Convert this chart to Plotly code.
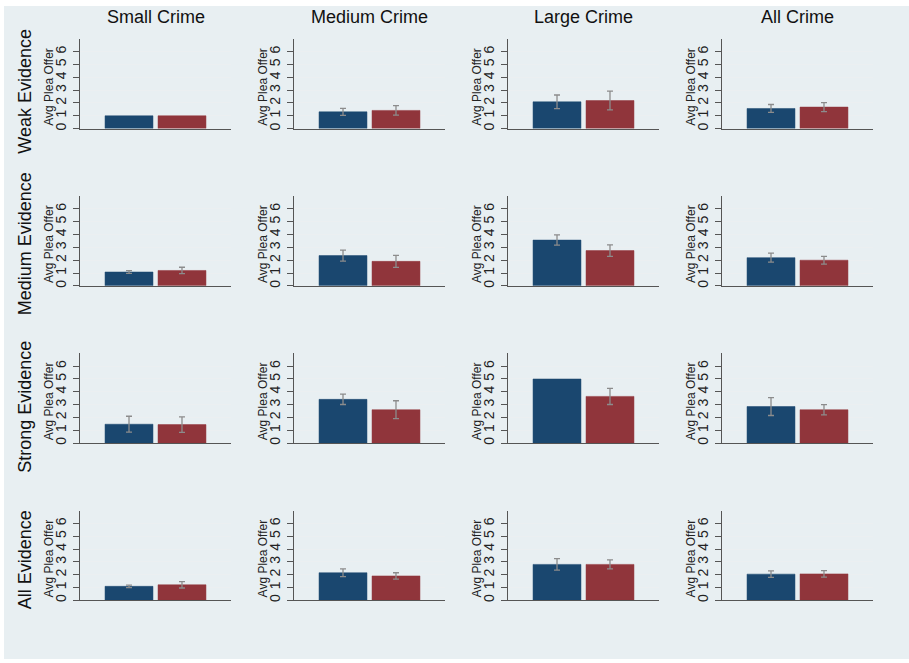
import plotly.graph_objects as go

# Panel labels
evidence_levels = ["Weak Evidence", "Medium Evidence", "Strong Evidence", "All Evidence"]
crime_sizes = ["Small Crime", "Medium Crime", "Large Crime", "All Crime"]
groups = [1, 2]
y_ticks = [0, 1, 2, 3, 4, 5, 6]
y_title = "Avg Plea Offer"

# Mean plea offers and error half-widths, one list per evidence level (columns = crime size)
blue_weak = [1.00, 1.31, 2.09, 1.57]
blue_medium = [1.08, 2.36, 3.57, 2.20]
blue_strong = [1.47, 3.41, 5.00, 2.85]
blue_all = [1.09, 2.15, 2.80, 2.04]

blue_err_weak = [None, 0.27, 0.53, 0.31]
blue_err_medium = [0.10, 0.43, 0.40, 0.35]
blue_err_strong = [0.62, 0.40, None, 0.70]
blue_err_all = [0.10, 0.30, 0.45, 0.26]

red_weak = [1.00, 1.42, 2.19, 1.68]
red_medium = [1.20, 1.91, 2.75, 2.00]
red_strong = [1.44, 2.60, 3.64, 2.60]
red_all = [1.21, 1.90, 2.80, 2.06]

red_err_weak = [None, 0.37, 0.73, 0.35]
red_err_medium = [0.25, 0.47, 0.45, 0.30]
red_err_strong = [0.60, 0.70, 0.63, 0.40]
red_err_all = [0.25, 0.25, 0.35, 0.25]

blue_means = [blue_weak, blue_medium, blue_strong, blue_all]
blue_errs = [blue_err_weak, blue_err_medium, blue_err_strong, blue_err_all]
red_means = [red_weak, red_medium, red_strong, red_all]
red_errs = [red_err_weak, red_err_medium, red_err_strong, red_err_all]

W, H = 909, 663
BG = "#e8eff2"
NAVY = "#1a476f"
MAROON = "#90353b"
ERR = "#8c8c8c"
FONT = "Liberation Sans, Arial, sans-serif"

# Panel geometry in pixels
PANEL_W, PANEL_H = 151, 90
COL_X0, COL_STEP = 80, 214
ROW_Y0, ROW_STEP = 39, 157.7


def fx(px):
    return px / W


def fy(py):
    return 1 - py / H


def errspec(v):
    return dict(
        type="data",
        array=[v] if v is not None else [float("nan")],
        visible=v is not None,
        color=ERR,
        thickness=1.3,
        width=3,
    )


fig = go.Figure()
layout_axes = {}
annotations = []

for r in range(4):
    for c in range(4):
        k = r * 4 + c + 1
        xa = "x" if k == 1 else f"x{k}"
        ya = "y" if k == 1 else f"y{k}"
        x0 = COL_X0 + c * COL_STEP
        top = ROW_Y0 + r * ROW_STEP

        fig.add_trace(go.Bar(
            x=[groups[0]], y=[blue_means[r][c]], width=0.905,
            marker=dict(color=NAVY, line=dict(color=NAVY, width=0.5)),
            error_y=errspec(blue_errs[r][c]),
            xaxis=xa, yaxis=ya, showlegend=False, hoverinfo="y",
        ))
        fig.add_trace(go.Bar(
            x=[groups[1]], y=[red_means[r][c]], width=0.905,
            marker=dict(color=MAROON, line=dict(color=MAROON, width=0.5)),
            error_y=errspec(red_errs[r][c]),
            xaxis=xa, yaxis=ya, showlegend=False, hoverinfo="y",
        ))

        xkey = "xaxis" if k == 1 else f"xaxis{k}"
        ykey = "yaxis" if k == 1 else f"yaxis{k}"
        layout_axes[xkey] = dict(
            domain=[fx(x0), fx(x0 + PANEL_W)],
            anchor=ya,
            range=[0.075, 2.925],
            showticklabels=False,
            ticks="",
            showgrid=False,
            zeroline=False,
            showline=True,
            linecolor="#555555",
            linewidth=1,
            fixedrange=True,
        )
        layout_axes[ykey] = dict(
            domain=[fy(top + PANEL_H), fy(top)],
            anchor=xa,
            range=[0, 7],
            tickvals=y_ticks,
            tickangle=-90,
            ticks="outside",
            ticklen=6,
            tickwidth=1,
            tickcolor="#555555",
            tickfont=dict(family=FONT, size=14, color="#222222"),
            ticklabelstandoff=1,
            showgrid=True,
            gridcolor="#ebeff1",
            gridwidth=1,
            zeroline=False,
            showline=True,
            linecolor="#555555",
            linewidth=1,
            fixedrange=True,
        )
        # axis title placed beside the rotated tick labels
        annotations.append(dict(
            x=fx(x0 - 31), y=fy(top + PANEL_H / 2 + 3), xref="paper", yref="paper",
            text=y_title, showarrow=False, textangle=-90,
            xanchor="center", yanchor="middle",
            font=dict(family=FONT, size=12, color="#222222"),
        ))

fig.update_layout(**layout_axes)

for c, name in enumerate(crime_sizes):
    xc = COL_X0 + c * COL_STEP + PANEL_W / 2
    annotations.append(dict(
        x=fx(xc), y=fy(17), xref="paper", yref="paper",
        text=name, showarrow=False, xanchor="center", yanchor="middle",
        font=dict(family=FONT, size=18, color="#111111"),
    ))
row_centers = [92, 245, 408, 562]
for r, name in enumerate(evidence_levels):
    annotations.append(dict(
        x=fx(25), y=fy(row_centers[r]), xref="paper", yref="paper",
        text=name, showarrow=False, textangle=-90,
        xanchor="center", yanchor="middle",
        font=dict(family=FONT, size=18, color="#111111"),
    ))

fig.update_layout(
    width=W, height=H,
    margin=dict(l=0, r=0, t=0, b=0),
    paper_bgcolor="white",
    plot_bgcolor="white",
    barmode="overlay",
    annotations=annotations,
    shapes=[dict(type="rect", xref="paper", yref="paper",
                 x0=fx(4), x1=1, y0=fy(661), y1=fy(6),
                 fillcolor=BG, line=dict(width=0), layer="below")],
)

fig.write_html("out.html")
